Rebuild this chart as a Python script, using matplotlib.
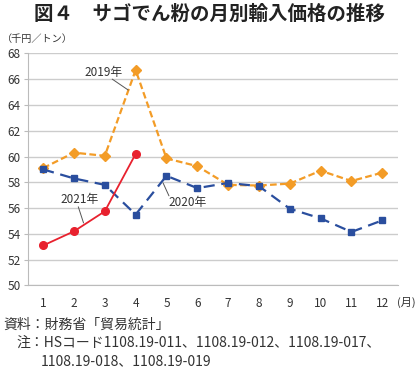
import matplotlib
matplotlib.use('Agg')
import matplotlib.pyplot as plt

plt.rcParams['font.family'] = ['Noto Sans CJK JP', 'DejaVu Sans']

months = [1, 2, 3, 4, 5, 6, 7, 8, 9, 10, 11, 12]
y2019 = [59.1, 60.3, 60.05, 66.7, 59.85, 59.25, 57.8, 57.75, 57.9, 58.9, 58.1, 58.75]
y2020 = [59.0, 58.3, 57.8, 55.5, 58.5, 57.55, 57.95, 57.7, 55.95, 55.2, 54.15, 55.05]
months2021 = [1, 2, 3, 4]
y2021 = [53.1, 54.2, 55.75, 60.2]

fig = plt.figure(figsize=(4.2, 3.71), dpi=100)
ax = fig.add_axes([0.066, 0.2305, 0.881, 0.6258])

ax.plot(months, y2019, color='#F39C27', linestyle=(0, (3, 1.5)), linewidth=1.6,
        marker='D', markersize=5)
ax.plot(months, y2020, color='#2A4E9E', linestyle=(0, (5, 3)), linewidth=1.6,
        marker='s', markersize=5)
ax.plot(months2021, y2021, color='#E8212E', linestyle='-', linewidth=1.3,
        marker='o', markersize=5.5)

ax.set_xlim(0.5, 12.5)
ax.set_ylim(50, 68)
ax.set_yticks(range(50, 69, 2))
ax.set_xticks(months)
ax.grid(axis='y', color='#cccccc', linewidth=1)
ax.set_axisbelow(True)
for s in ['top', 'right']:
    ax.spines[s].set_visible(False)
ax.spines['left'].set_color('#bbbbbb')
ax.spines['bottom'].set_color('#bbbbbb')
ax.tick_params(axis='y', length=3, color='#bbbbbb', labelsize=8.5, pad=2, labelcolor='#333333')
ax.tick_params(axis='x', length=0, labelsize=8.5, pad=8, labelcolor='#333333')

# series labels + leader lines
lbl = dict(fontsize=8.5, color='#333333', ha='center', va='center')
line = dict(arrowstyle='-', color='#555555', lw=0.7, shrinkA=0, shrinkB=0)
ax.text(2.97, 66.55, '2019年', **lbl)
ax.annotate('', xy=(3.76, 65.15), xytext=(3.24, 66.0), arrowprops=line)
ax.text(2.19, 56.7, '2021年', **lbl)
ax.annotate('', xy=(2.31, 54.85), xytext=(2.14, 56.1), arrowprops=line)
ax.text(5.69, 56.45, '2020年', **lbl)
ax.annotate('', xy=(4.89, 57.95), xytext=(5.08, 56.95), arrowprops=line)

fig.text(0.5, 0.962, '図４　サゴでん粉の月別輸入価格の推移', ha='center', va='center',
         fontsize=14, fontweight='bold', color='#222222')
fig.text(0.005, 0.895, '（千円／トン）', ha='left', va='center', fontsize=7.3, color='#333333')
fig.text(0.945, 0.186, '(月)', ha='left', va='center', fontsize=8, color='#333333')

fig.text(0.007, 0.124, '資料：財務省「貿易統計」', ha='left', va='center', fontsize=10, color='#333333')
fig.text(0.04, 0.075, '注：HSコード1108.19-011、1108.19-012、1108.19-017、', ha='left', va='center',
         fontsize=10, color='#333333')
fig.text(0.098, 0.027, '1108.19-018、1108.19-019', ha='left', va='center', fontsize=10, color='#333333')

fig.savefig('out.png', dpi=100)
